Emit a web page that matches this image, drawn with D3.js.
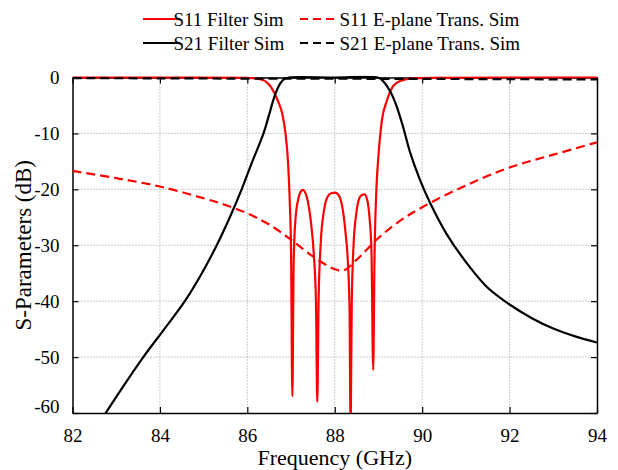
<!DOCTYPE html>
<html>
<head>
<meta charset="utf-8">
<script src="https://cdn.jsdelivr.net/npm/d3@7"></script>
<style>
  body { margin: 0; background: #fff; }
  text { font-family: "Liberation Serif", "Times New Roman", serif; fill: #000; }
</style>
</head>
<body>
<svg id="chart" width="618" height="470"></svg>
<script>
// values
const xTicks = [82, 84, 86, 88, 90, 92, 94];
const yTicks = [0, -10, -20, -30, -40, -50, -60];

const s11FilterFreq = [82, 84, 86, 86.2, 86.4, 86.55, 86.7, 86.8, 86.87, 86.93, 86.97, 87.0, 87.03,
  87.06, 87.1, 87.17, 87.22, 87.27, 87.32, 87.38, 87.45, 87.52, 87.57, 87.6,
  87.63, 87.68, 87.75, 87.83, 87.92, 88.01, 88.1, 88.18, 88.25, 88.3, 88.34, 88.36,
  88.39, 88.43, 88.49, 88.56, 88.62, 88.68, 88.74, 88.8, 88.84, 88.88,
  88.91, 88.95, 89.0, 89.08, 89.19, 89.34, 89.5, 89.8, 90.2, 92, 94];
const s11FilterDb = [0, 0, -0.05, -0.15, -0.6, -1.8, -4.2, -6.5, -9.8, -15, -22, -31, -57,
  -33, -25.5, -21.6, -20.4, -20.1, -20.5, -22, -25.5, -31.5, -40, -58,
  -40, -29.5, -24, -21.4, -20.7, -20.6, -21.2, -23.5, -28, -33, -42, -64,
  -40, -30, -24.5, -21.6, -21, -20.9, -21.8, -25.5, -31, -52.3,
  -32, -20.5, -14, -7.6, -4.2, -1.5, -0.6, -0.15, -0.05, 0, 0];

const s21FilterFreq = [82, 82.76, 83.18, 83.62, 84.1, 84.57, 84.96, 85.3, 85.6, 85.87, 86.1, 86.37, 86.5,
  86.63, 86.75, 86.85, 86.95, 88, 89, 89.1, 89.27, 89.4, 89.57, 89.72, 89.95, 90.18,
  90.56, 91.1, 91.5, 92, 92.5, 93, 93.5, 94];
const s21FilterDb = [-69, -60, -55, -50, -45, -40, -35, -30, -25, -20, -15.3, -10, -6.6,
  -3.2, -1.1, -0.25, 0, 0, -0.05, -0.6, -2.5, -4.8, -9, -13.3, -18.3, -22.4,
  -28, -34, -37.6, -40.6, -43, -44.9, -46.3, -47.4];

const s11PlaneFreq = [82, 83, 84, 85, 85.5, 86, 86.5, 87, 87.5, 88, 88.2, 88.5, 89, 89.5, 90, 91, 92, 93, 94];
const s11PlaneDb = [-16.7, -18.0, -19.5, -21.6, -22.8, -24.3, -26.3, -29.0, -32.0, -34.3, -34.5, -32.6,
  -28.7, -25.6, -23.2, -19.3, -16.1, -13.8, -11.6];

const s21PlaneFreq = [82, 84, 86, 88, 90, 92, 94];
const s21PlaneDb = [-0.12, -0.15, -0.2, -0.22, -0.25, -0.3, -0.35];

const seriesNames = ["S11 Filter Sim", "S11 E-plane Trans. Sim", "S21 Filter Sim", "S21 E-plane Trans. Sim"];

const svg = d3.select("#chart");
const margin = {top: 77.5, right: 21, bottom: 57, left: 72.5};
const width = 618, height = 470;
const innerW = width - margin.left - margin.right;
const innerH = height - margin.top - margin.bottom;
const serif = "'Liberation Serif', 'Times New Roman', serif";

const x = d3.scaleLinear().domain([82, 94]).range([0, innerW]);
const y = d3.scaleLinear().domain([-60, 0]).range([innerH, 0]);

const g = svg.append("g").attr("transform", `translate(${margin.left},${margin.top})`);

g.append("clipPath").attr("id", "clip")
  .append("rect").attr("x", 0).attr("y", -2).attr("width", innerW).attr("height", innerH + 2);

// grid
g.append("g").selectAll("line").data(xTicks.slice(1, -1)).enter().append("line")
  .attr("x1", d => x(d)).attr("x2", d => x(d)).attr("y1", 0).attr("y2", innerH)
  .attr("stroke", "#9a9a9a").attr("stroke-width", 1).attr("stroke-dasharray", "1,2");
g.append("g").selectAll("line").data(yTicks.slice(1, -1)).enter().append("line")
  .attr("y1", d => y(d)).attr("y2", d => y(d)).attr("x1", 0).attr("x2", innerW)
  .attr("stroke", "#9a9a9a").attr("stroke-width", 1).attr("stroke-dasharray", "1,2");

// axes with inward ticks
const tick = 6;
const xAxis = g.append("g").attr("transform", `translate(0,${innerH})`)
  .call(d3.axisBottom(x).tickValues(xTicks).tickSize(-tick).tickPadding(tick + 10).tickSizeOuter(0));
const yAxis = g.append("g")
  .call(d3.axisLeft(y).tickValues(yTicks).tickSize(-tick).tickPadding(tick + 7).tickSizeOuter(0));
g.append("g").call(d3.axisTop(x).tickValues(xTicks).tickSize(-tick).tickFormat("").tickSizeOuter(0));
g.append("g").attr("transform", `translate(${innerW},0)`)
  .call(d3.axisRight(y).tickValues(yTicks).tickSize(-tick).tickFormat("").tickSizeOuter(0));
g.selectAll(".domain").attr("stroke", "#000").attr("stroke-width", 1.5);
g.selectAll(".tick line").attr("stroke", "#000").attr("stroke-width", 1.2);
[xAxis, yAxis].forEach(a => a.selectAll("text")
  .style("font-family", serif).style("font-size", "19px").attr("fill", "#000"));
yAxis.selectAll("text").text(d => d === 0 ? "0" : "-" + Math.abs(d))
  .attr("dy", d => d === -60 ? "-0.05em" : "0.32em");

// curves
const sharp = d3.line().x(d => x(d[0])).y(d => y(d[1])).curve(d3.curveMonotoneX);
const smooth = d3.line().x(d => x(d[0])).y(d => y(d[1])).curve(d3.curveCatmullRom.alpha(0.5));
const zip = (a, b) => a.map((v, i) => [v, b[i]]);
const plot = g.append("g").attr("clip-path", "url(#clip)");
const series = [
  {data: zip(s11FilterFreq, s11FilterDb), color: "#ff0000", dash: null, gen: sharp},
  {data: zip(s21FilterFreq, s21FilterDb), color: "#000000", dash: null, gen: smooth},
  {data: zip(s11PlaneFreq, s11PlaneDb), color: "#ff0000", dash: "9,5", gen: smooth},
  {data: zip(s21PlaneFreq, s21PlaneDb), color: "#000000", dash: "9,5", gen: smooth}
];
series.forEach(s => {
  plot.append("path").attr("d", s.gen(s.data)).attr("fill", "none")
    .attr("stroke", s.color).attr("stroke-width", 2.2)
    .attr("stroke-dasharray", s.dash);
});

// axis titles
svg.append("text").attr("x", margin.left + innerW / 2).attr("y", 465)
  .attr("text-anchor", "middle").style("font-size", "22px").text("Frequency (GHz)");
svg.append("text").attr("transform", `translate(31,${margin.top + innerH / 2}) rotate(-90)`)
  .attr("text-anchor", "middle").style("font-size", "23px").text("S-Parameters (dB)");

// legend
const legend = [
  {name: seriesNames[0], color: "#ff0000", dash: null, x: 143, y: 19},
  {name: seriesNames[1], color: "#ff0000", dash: "8,5", x: 300, y: 19},
  {name: seriesNames[2], color: "#000000", dash: null, x: 143, y: 43},
  {name: seriesNames[3], color: "#000000", dash: "8,5", x: 300, y: 43}
];
legend.forEach(l => {
  svg.append("line").attr("x1", l.x).attr("x2", l.x + 37).attr("y1", l.y).attr("y2", l.y)
    .attr("stroke", l.color).attr("stroke-width", 2.2).attr("stroke-dasharray", l.dash);
  svg.append("text").attr("x", l.x + 30.5 + (l.dash ? 9 : 0)).attr("y", l.y + 7)
    .style("font-size", "19px").text(l.name);
});
</script>
</body>
</html>
